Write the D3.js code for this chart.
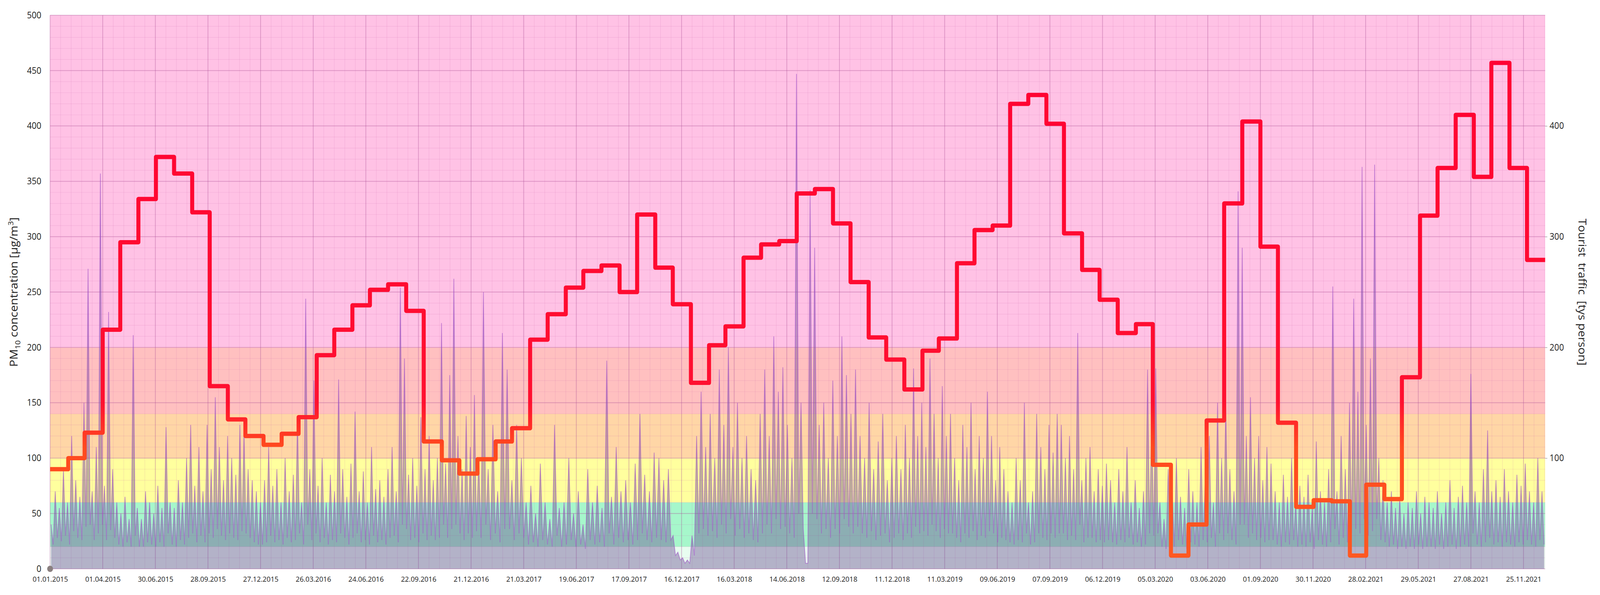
<!DOCTYPE html>
<html><head><meta charset="utf-8">
<script src="https://cdn.jsdelivr.net/npm/d3@7"></script>
<style>html,body{margin:0;background:#fff;overflow:hidden}text{font-family:"Open Sans",sans-serif}svg{display:block;width:100vw;height:100vh}</style>
</head><body><svg id="c" viewBox="0 0 4375 1524" preserveAspectRatio="none"></svg>
<script>
const years=[2015,2016,2017,2018,2019,2020,2021];
const pm2015=[40,22,70,28,55,25,90,30,60,22,120,34,80,28,65,26,150,38,271,40,70,26,110,32,357,40,75,26,232,35,90,28,60,22,50,20,65,24,45,20,211,30,55,20,45,20,70,24,60,22,50,20,75,24,55,20,128,32,60,22,55,20,80,26,60,22,100,28,130,32,75,24,110,30,70,24,130,32,90,28,155,36,110,30,80,26,120,32,100,28,85,26,130,34,125,32,90,28,80,24,70,22,60,22];
const pm2016=[80,24,110,30,75,24,90,26,60,22,100,28,70,24,85,26,135,32,60,22,244,40,90,26,170,32,75,24,100,28,60,22,85,26,70,24,171,32,90,28,65,22,95,28,142,32,70,24,88,26,60,22,110,30,72,24,80,26,65,22,90,28,110,30,70,24,254,40,190,36,85,26,100,28,75,24,137,32,90,26,120,30,80,26,100,28,222,40,95,28,175,36,262,40,120,32,90,26,138,32,110,28,157,34];
const pm2017=[100,28,250,40,90,26,130,32,70,24,213,36,180,36,80,26,130,32,100,28,60,22,75,24,50,20,95,26,60,22,45,20,130,30,55,20,60,22,100,26,50,20,70,22,40,18,90,26,60,22,75,24,55,20,188,32,65,22,110,28,70,24,80,26,60,22,95,26,140,32,85,26,70,24,105,28,100,26,80,24,90,26,30,12,15,8,10,5,8,5];
const pm2018=[30,12,120,32,160,36,110,30,140,34,100,28,180,40,130,32,200,45,110,30,150,36,100,28,120,32,90,26,80,24,140,32,180,40,120,32,210,45,160,36,182,38,130,32,100,28,447,50,150,36,5,5,342,50,290,45,130,32,150,36,100,28,170,36,120,32,210,45,175,38,140,32,180,38,120,32,100,28,150,34,90,26,115,30,140,32,80,24,100,28,120,32,90,26];
const pm2019=[130,32,100,28,181,38,120,32,150,34,110,30,190,40,140,34,100,28,165,36,120,32,140,32,100,28,80,24,130,32,110,28,150,34,90,26,120,30,100,28,160,34,120,32,80,24,110,28,90,26,70,24,60,22,100,26,80,24,150,32,60,22,70,24,140,32,110,28,90,26,130,32,105,28,140,32,130,32,100,26,120,30,90,26,213,40,80,24,100,28,110,28,70,24,90,26,75,24,95,26,80,24,60,22];
const pm2020=[90,26,70,24,110,28,60,22,80,24,55,20,70,22,180,32,140,30,181,32,60,20,45,18,90,24,70,20,100,26,65,22,55,18,90,24,70,22,60,20,110,26,80,24,120,28,60,20,150,32,100,26,150,32,90,26,70,22,341,40,290,40,120,28,155,32,100,26,120,28,80,24,110,26,95,26,70,22,60,20,85,24,65,22,100,26,60,20,75,22,65,20,85,24,55,18,115,26,70,22,60,20,90,24];
const pm2021=[255,36,70,22,120,28,90,24,150,32,244,36,160,32,363,45,130,30,190,34,365,45,100,26,80,24,60,20,70,22,55,18,65,20,50,18,60,20,55,18,70,22,50,18,65,20,60,20,55,18,70,22,50,18,60,20,80,22,55,18,65,20,75,22,60,20,176,32,70,22,60,20,90,24,125,28,70,22,80,24,65,20,90,24,70,22,60,20,85,24,75,22,95,26,70,22,60,20,100,26,70,22];
const pmByYear=[pm2015,pm2016,pm2017,pm2018,pm2019,pm2020,pm2021];
const tourists=[90,100,123,216,295,334,372,357,322,165,135,120,
 112,122,137,193,216,238,252,257,233,115,98,86,
 99,115,127,207,230,254,269,274,250,320,272,239,
 168,202,219,281,293,296,339,343,312,259,209,189,
 162,197,208,276,306,310,420,428,402,303,270,243,
 213,221,94,12,40,134,330,404,291,132,56,62,
 61,12,76,63,173,319,362,410,354,457,362,279];
const bands=[[0,20,"#e8fdf0"],[20,60,"#a6f7cb"],[60,100,"#ffff9e"],[100,140,"#ffd6a6"],[140,200,"#ffc0c0"],[200,500,"#ffc2e5"]];
const leftTicks=[0,50,100,150,200,250,300,350,400,450,500];
const rightTicks=[100,200,300,400];

const svg=d3.select("#c");
const L=137,R=4225,T=39,B=1457;
const t0=new Date(2015,0,1),t1=new Date(2022,0,1);
const x=d3.scaleTime().domain([t0,t1]).range([L,R]);
const y=d3.scaleLinear().domain([0,500]).range([B,T]);
const DAY=864e5;
svg.selectAll("rect.band").data(bands).join("rect").attr("x",L).attr("width",R-L)
 .attr("y",d=>y(d[1])).attr("height",d=>y(d[0])-y(d[1])).attr("fill",d=>d[2]);
const g=svg.append("g");
d3.range(0,501,10).forEach(v=>g.append("line").attr("x1",L).attr("x2",R).attr("y1",y(v)).attr("y2",y(v))
 .attr("stroke",v%50===0?"rgba(170,80,150,0.4)":"rgba(200,100,170,0.2)").attr("stroke-width",v%50===0?2:1.2));
const xt=[];for(let d=0;d<=2557;d+=90)xt.push(new Date(t0.getTime()+d*DAY+3600e3));
for(let d=0;d<=2557;d+=18){const xx=x(new Date(t0.getTime()+d*DAY));if(xx>R)break;
 g.append("line").attr("x1",xx).attr("x2",xx).attr("y1",T).attr("y2",B)
 .attr("stroke",d%90===0?"rgba(170,80,150,0.4)":"rgba(200,100,170,0.2)").attr("stroke-width",d%90===0?2:1.2);}
const pm=[];
pmByYear.forEach((arr,i)=>{const ys=new Date(years[i],0,1),ye=new Date(years[i]+1,0,1);
 const step=(ye-ys)/arr.length;arr.forEach((v,j)=>pm.push({d:new Date(ys.getTime()+step*(j+0.5)),v}));});
svg.append("path").datum(pm).attr("fill","rgba(105,75,145,0.42)")
 .attr("d",d3.area().x(d=>x(d.d)).y0(B).y1(d=>y(d.v)));
svg.append("path").datum(pm).attr("fill","none").attr("stroke","rgba(160,80,200,0.6)").attr("stroke-width",2)
 .attr("d",d3.line().x(d=>x(d.d)).y(d=>y(d.v)));
const tData=tourists.map((v,i)=>({d:new Date(2015,i,1),v}));
tData.push({d:t1,v:tourists[tourists.length-1]});
const defs=svg.append("defs");
const gr=defs.append("linearGradient").attr("id","tg").attr("gradientUnits","userSpaceOnUse")
 .attr("x1",0).attr("x2",0).attr("y1",y(0)).attr("y2",y(500));
[[0,"#ff5a22"],[110/500,"#ff4a1e"],[150/500,"#ff1030"],[1,"#ff0033"]].forEach(s=>gr.append("stop").attr("offset",s[0]).attr("stop-color",s[1]));
svg.append("path").datum(tData).attr("fill","none").attr("stroke","url(#tg)").attr("stroke-width",11)
 .attr("stroke-linejoin","round").attr("d",d3.line().curve(d3.curveStepAfter).x(d=>x(d.d)).y(d=>y(d.v)));
const fmt=d3.timeFormat("%d.%m.%Y");
svg.append("g").attr("transform",`translate(0,${B})`).call(d3.axisBottom(x).tickValues(xt).tickFormat(fmt).tickSize(0).tickPadding(20))
 .call(a=>a.select(".domain").remove()).selectAll("text").attr("font-size",19).attr("fill","#222");
svg.append("g").attr("transform",`translate(${L},0)`).call(d3.axisLeft(y).tickValues(leftTicks).tickSize(0).tickPadding(24))
 .call(a=>a.select(".domain").remove()).selectAll("text").attr("font-size",23).attr("fill","#222");
svg.append("g").attr("transform",`translate(${R},0)`).call(d3.axisRight(y).tickValues(rightTicks).tickSize(6).tickPadding(6))
 .call(a=>a.select(".domain").remove()).call(a=>a.selectAll("line").attr("stroke","#777"))
 .selectAll("text").attr("font-size",23).attr("fill","#222");
svg.append("circle").attr("cx",L).attr("cy",B).attr("r",8).attr("fill","#8a8080");
const yt=svg.append("text").attr("transform",`translate(48,${(T+B)/2}) rotate(-90)`).attr("text-anchor","middle").attr("font-size",30).attr("fill","#222");
yt.append("tspan").text("PM");yt.append("tspan").attr("font-size",20).attr("dy",8).text("10");
yt.append("tspan").attr("dy",-8).text(" concentration [µg/m");yt.append("tspan").attr("font-size",20).attr("dy",-12).text("3");
yt.append("tspan").attr("dy",12).text("]");
svg.append("text").attr("transform",`translate(4316,${(T+B)/2}) rotate(90)`).attr("text-anchor","middle").attr("font-size",30).attr("fill","#222")
 .attr("xml:space","preserve").text("Tourist  traffic  [tys person]");
</script></body></html>
